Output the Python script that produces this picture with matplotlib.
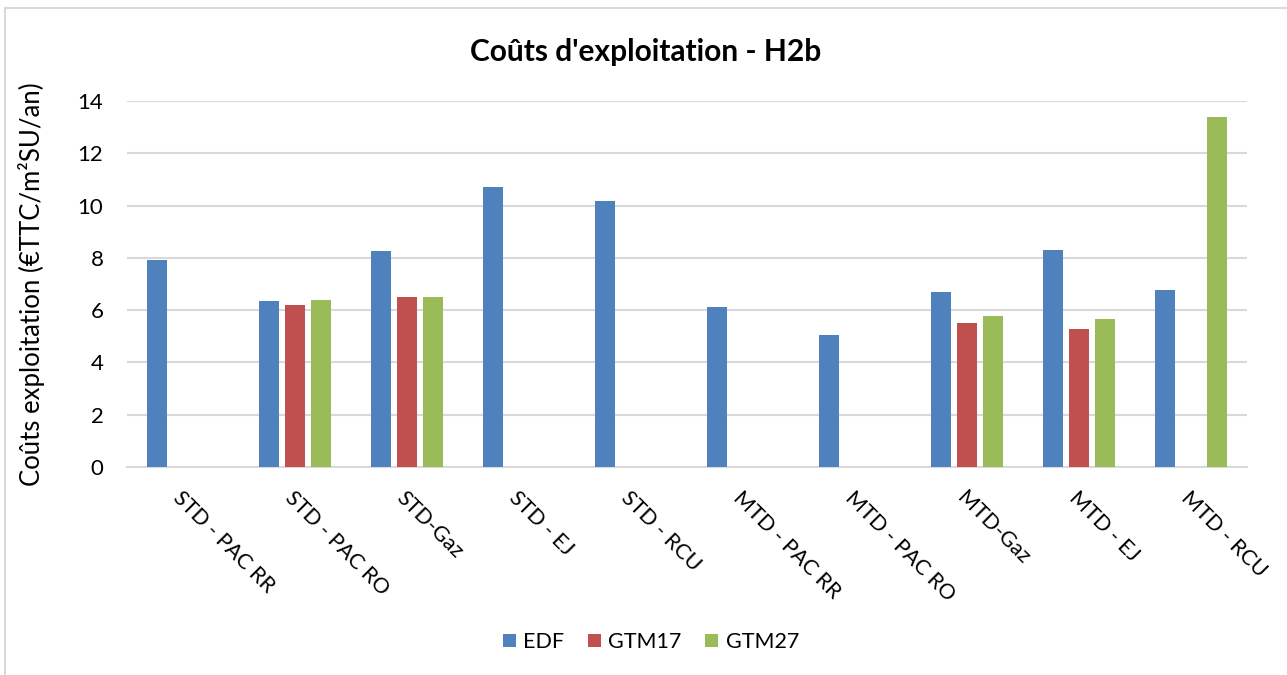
import matplotlib
matplotlib.use("Agg")
import matplotlib.pyplot as plt
import numpy as np
from matplotlib.lines import Line2D

plt.rcParams['font.family'] = ['Lato', 'DejaVu Sans']

categories = ["STD - PAC RR", "STD - PAC RO", "STD-Gaz", "STD - EJ", "STD - RCU",
              "MTD - PAC RR", "MTD - PAC RO", "MTD-Gaz", "MTD - EJ", "MTD - RCU"]
edf = [7.9, 6.35, 8.26, 10.7, 10.16, 6.12, 5.05, 6.7, 8.29, 6.78]
gtm17 = [0, 6.18, 6.5, 0, 0, 0, 0, 5.5, 5.28, 0]
gtm27 = [0, 6.38, 6.5, 0, 0, 0, 0, 5.78, 5.68, 13.4]
series_names = ["EDF", "GTM17", "GTM27"]
colors = ["#4F81BD", "#C0504D", "#9BBB59"]
yticks = [0, 2, 4, 6, 8, 10, 12, 14]

W, H = 1287, 675
fig = plt.figure(figsize=(W / 100, H / 100), dpi=100)
ax_bottom = 1 - 467 / H
ax_top = 1 - 101 / H
ax = fig.add_axes([127 / W, ax_bottom, (1247 - 127) / W, ax_top - ax_bottom])

x = np.arange(len(categories))
slot = 0.232
bw = 0.17
for i, (vals, name, c) in enumerate(zip([edf, gtm17, gtm27], series_names, colors)):
    ax.bar(x + (i - 1) * slot, vals, width=bw, color=c, label=name, zorder=3)

ax.set_xlim(-0.5, len(categories) - 0.5)
ax.set_ylim(0, 14)
ax.set_yticks(yticks)
ax.set_yticklabels([str(v) for v in yticks], fontsize=16)
ax.yaxis.grid(True, color="#D9D9D9", linewidth=1.5, zorder=0)
ax.set_axisbelow(True)
for s in ["top", "right", "left"]:
    ax.spines[s].set_visible(False)
ax.spines["bottom"].set_color("#D9D9D9")
ax.spines["bottom"].set_linewidth(1.5)
ax.tick_params(axis="y", length=0, pad=17)
ax.tick_params(axis="x", length=0, pad=15)
ax.set_xticks(x)
ax.set_xticklabels(categories, fontsize=15.5, rotation=-45, ha="left", va="top",
                   rotation_mode="anchor")

ax.set_ylabel("Coûts exploitation (€TTC/m²SU/an)", fontsize=18.5)
ax.yaxis.set_label_coords(45 / W, 0.5 * (ax_bottom + ax_top), transform=fig.transFigure)

fig.text(646 / W, 1 - 52 / H, "Coûts d'exploitation - H2b", ha="center", va="center",
         fontsize=21.5, fontweight="bold")

leg = fig.legend(loc="center", bbox_to_anchor=(651 / W, 1 - 642 / H), ncol=3,
                 frameon=False, fontsize=15.5, handlelength=0.6, handleheight=0.6,
                 handletextpad=0.35, columnspacing=1.1)

# figure border (left and top visible)
fig.add_artist(Line2D([5 / W, 5 / W], [0, 1 - 8 / H], transform=fig.transFigure,
                      color="#D9D9D9", linewidth=1.5))
fig.add_artist(Line2D([5 / W, 1], [1 - 8 / H, 1 - 8 / H], transform=fig.transFigure,
                      color="#D9D9D9", linewidth=1.5))

fig.savefig("out.png", dpi=100)
